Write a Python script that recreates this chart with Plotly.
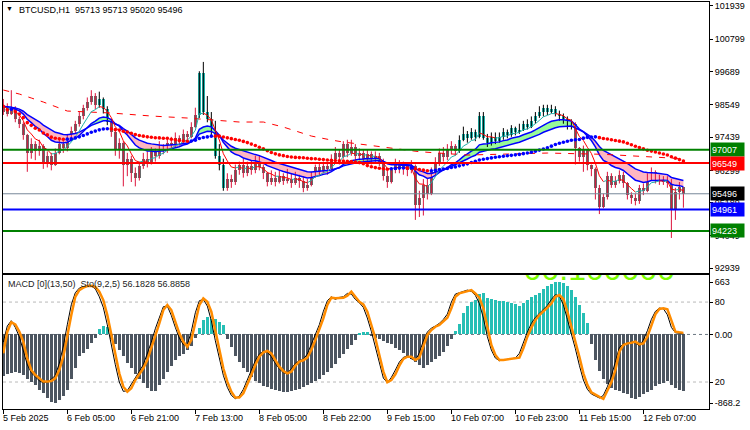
import plotly.graph_objects as go
import pandas as pd

# ---------------- data ----------------
first_open = 98300
close = [98500,98250,98450,98050,97900,97500,96900,97200,96950,97150,
         96550,96800,96500,96900,97200,97050,97450,97650,97900,98150,
         98450,98650,98850,98550,98750,98400,97950,97600,97000,97250,
         96500,96700,96200,96050,96450,96700,96600,96950,96800,97100,
         97000,97250,97200,97400,97300,97550,97450,97800,98200,99650,
         98300,98050,97600,96800,96500,95700,96000,95900,96300,96500,
         96200,96450,96300,96600,96400,96200,95900,96050,95900,96100,
         95950,96000,95850,96050,95950,95700,95800,96150,96400,96250,
         96450,96350,96700,96900,96750,97200,96900,97100,96800,96900,
         96700,96850,96650,96800,96600,96100,95900,96300,96550,96350,
         96450,96300,96450,95100,95350,95800,95500,96250,96600,96900,
         96750,97000,97150,96950,97350,97550,97400,97600,97450,98150,
         97400,97250,97450,97300,97450,97600,97500,97750,97600,97700,
         97900,97800,98000,98150,98300,98450,98300,98400,98250,98150,
         98050,97800,97900,97050,96750,97000,96500,96350,95700,95050,
         95400,96100,95800,95950,96150,95850,95450,95350,95250,95700,
         95600,96050,96250,95950,96050,95900,95950,94950,95550,95713,
         95496]
high = [98750,98600,99050,98500,98150,97950,97550,97400,97300,97350,
        97200,96950,96900,97050,97350,97300,97550,97800,98000,98300,
        98550,98800,99050,98950,99000,98800,98500,98050,97700,97400,
        97300,96900,96800,96400,96600,96900,96950,97100,97050,97300,
        97200,97400,97450,97600,97500,97700,97650,97950,98450,99700,
        100020,98850,98300,98000,97200,96700,96200,96150,96500,96600,
        96700,96600,96650,96800,96800,96500,96250,96300,96250,96300,
        96200,96350,96200,96250,96150,96100,96000,96250,96500,96550,
        96600,96550,96850,97100,97000,97300,97350,97350,97200,97050,
        97000,97000,96950,96950,96900,96700,96300,96400,96700,96650,
        96600,96550,96650,96500,95600,96000,96000,96400,96750,97050,
        97100,97200,97300,97200,97500,97800,97650,97750,97700,98300,
        98300,97550,97600,97600,97600,97750,97700,97850,97800,97900,
        98000,98050,98150,98300,98500,98550,98550,98550,98500,98350,
        98250,98150,98050,97950,97100,97150,97000,96500,96400,95800,
        95500,96250,96200,96100,96300,96250,95900,95550,95500,95800,
        95850,96200,96400,96300,96150,96100,96100,96000,95700,95900,
        95713]
low = [98200,98150,98200,97950,97750,97350,96250,96700,96650,96800,
       96350,96400,96300,96450,96850,96900,96950,97350,97550,97800,
       98050,98350,98550,98400,98450,98250,97850,97450,96800,96700,
       95750,96100,95900,95750,95950,96350,96400,96500,96600,96700,
       96850,96900,97000,97100,97150,97250,97300,97400,97750,98100,
       98200,97950,97500,96700,96300,95600,95600,95700,95800,96150,
       96050,96100,96150,96200,96300,96000,95750,95800,95750,95850,
       95800,95850,95700,95800,95700,95550,95600,95750,96050,96100,
       96200,96150,96300,96600,96500,96700,96750,96800,96650,96650,
       96550,96600,96500,96550,96450,95950,95700,95850,96200,96200,
       96150,96100,96200,94600,94700,94750,95300,95450,96100,96450,
       96600,96650,96850,96800,96900,97300,97250,97350,97300,97400,
       97350,97100,97150,97200,97250,97350,97400,97450,97500,97550,
       97650,97700,97750,97900,98100,98150,98200,98250,98150,98000,
       97900,97700,97700,96500,96600,96250,96300,96100,95300,94800,
       95000,95300,95700,95700,95850,95700,95300,95150,95100,95150,
       95450,95550,95950,95850,95800,95800,95700,93980,94600,95300,
       95020]
# bars drawn in the teal colour (indicator state), as index ranges
teal_ranges = [(24, 26), (49, 55), (114, 142)]

# long red dashed average
dash_idx = [0, 4, 7, 10, 16, 27, 37, 46, 59, 65, 70, 77, 82, 85, 91, 97, 104, 116, 136, 150, 170]
dash_val = [99056, 98919, 98782, 98644, 98335, 98267, 98164, 98095, 97958, 97958, 97786,
            97477, 97340, 97271, 97169, 97066, 96940, 96825, 96894, 96850, 96700]

# horizontal levels
level_vals = [97007, 96549, 95496, 94961, 94223]
level_cols = ["#008000", "#FF0000", "#778899", "#0000FF", "#008000"]
level_box = ["#008000", "#FF0000", "#000000", "#0000FF", "#008000"]

price_ticks = [101939, 100799, 99689, 98549, 97439, 96299, 95189, 94049, 92939]

# MACD(13,50) histogram
hist = [-527,-500,-490,-480,-490,-520,-560,-600,-640,-700,
        -740,-800,-860,-868,-830,-780,-700,-560,-420,-280,
        -230,-180,-110,-50,70,110,95,-60,-120,-200,
        -280,-360,-430,-500,-560,-620,-680,-720,-720,-640,
        -560,-480,-400,-330,-280,-250,-200,-150,-40,80,
        180,220,200,190,160,120,-60,-160,-270,-350,
        -420,-480,-540,-590,-620,-650,-670,-690,-710,-720,
        -730,-730,-720,-700,-690,-670,-640,-620,-590,-560,
        -520,-480,-430,-370,-300,-250,-190,-130,-75,15,
        25,25,-15,-45,-63,-84,-105,-127,-169,-198,
        -232,-274,-308,-350,-392,-422,-392,-350,-316,-274,
        -224,-148,-63,42,127,274,359,409,434,506,
        527,464,443,430,422,422,409,400,380,359,
        400,440,470,500,530,578,615,640,658,663,
        650,612,560,470,370,274,150,-120,-330,-470,
        -560,-630,-680,-710,-717,-738,-760,-805,-820,-790,
        -760,-735,-700,-655,-630,-615,-595,-640,-680,-710,
        -717]
# Stochastic(9,2,5): thin black and thick orange lines
sto_black = [50,62,66,61,54,44,33,27,24,21,
             19.5,20,22,25,34,47,63,78,87,90.5,
             91.5,92.5,92,90,84,76,63,47,33,20,
             13,13.5,18,23.5,28,33,41,50,60,69,
             76.5,77,70,61,53,48,48,58,72,81,
             82,77,66,51,37,25,16,10,7.5,9.5,
             14.5,21.5,29,36,41,43,42.5,39,34,30,
             27,26.5,30,34,36,37,41,48,55,63,
             73,81,84,82,83.5,84,86.5,86,82,79.5,
             76,68,58,46.5,34,23,19.5,23.5,29,35,
             38.5,39.5,37.5,36,42,51,57.5,60.5,62,64,
             67,71,80,86,87,88,89,88,85,79,
             68,54,44,38,36,36.5,37,37.5,38,41.5,
             50,57.5,64,68.5,71.5,74.5,77.5,82,85.5,84.5,
             78,67,56.5,45,32.5,21.5,14.5,11,9.5,8,
             10,16.5,24.5,36,46,48.5,49.5,50,49.5,47,
             51.5,58.5,67,73,75.5,75,70.5,61,57,56.5,
             56.1828]
sto_orange = [41.5,57.8,64.8,63.3,57.8,50.3,37.8,29.0,25.3,22.8,
              20.3,20.3,20.8,22.8,29.0,39.0,55.3,70.3,84.0,89.0,
              90.8,92.0,92.3,91.5,87.8,81.5,70.3,55.3,40.3,26.5,
              16.5,12.8,15.3,21.5,25.8,30.3,36.5,45.3,55.3,64.0,
              74.0,77.8,74.0,65.3,56.5,50.3,46.5,51.5,65.3,77.8,
              82.8,80.3,72.8,59.0,44.0,30.3,20.3,12.8,8.3,8.3,
              11.5,17.8,25.3,32.8,39.0,42.3,43.3,41.5,36.5,31.5,
              28.3,26.5,27.8,32.3,35.3,36.3,38.3,44.0,51.5,59.0,
              67.8,77.8,83.3,82.8,82.8,83.3,84.8,87.8,84.0,80.3,
              78.3,72.8,62.8,52.8,40.3,27.8,19.8,21.5,25.8,32.3,
              37.3,39.0,39.0,36.5,38.3,46.5,55.3,59.0,61.5,62.8,
              65.8,68.3,75.3,84.0,86.5,87.3,88.3,89.0,86.5,83.3,
              75.3,60.3,47.8,40.3,36.5,36.5,37.0,37.3,37.5,38.3,
              45.3,54.0,60.8,66.5,70.3,72.8,75.8,79.0,84.0,85.3,
              82.3,72.8,61.5,51.5,39.0,26.5,17.8,12.3,10.3,8.8,
              7.3,13.3,19.8,29.0,42.8,47.8,49.0,49.5,50.3,48.3,
              49.0,54.0,62.8,70.8,74.8,75.3,74.5,65.3,57.8,57.3,
              56.8858]

x_tick_idx = [0, 16, 32, 48, 64, 80, 96, 112, 128, 144, 160]
x_tick_text = ["5 Feb 2025", "6 Feb 05:00", "6 Feb 21:00", "7 Feb 13:00", "8 Feb 05:00",
               "8 Feb 22:00", "9 Feb 15:00", "10 Feb 07:00", "10 Feb 23:00",
               "11 Feb 15:00", "12 Feb 07:00"]

header = "BTCUSD,H1  95713 95713 95020 95496"
macd_label = "MACD [0](13,50)  Sto(9,2,5) 56.1828 56.8858"
big_label = "00.100000"   # large lime text, only its lower edge shows in the sub-window

# ---------------- derived series ----------------
n = len(close)
idx = list(range(n))
opens = [first_open] + close[:-1]
teal = set()
for a, b in teal_ranges:
    teal.update(range(a, b + 1))

s = pd.Series(close, dtype=float)
ma_slow = s.rolling(42, min_periods=1).mean().tolist()
rib_fast = s.ewm(span=14, adjust=False).mean().tolist()
rib_slow = s.ewm(span=24, adjust=False).mean().tolist()
thin = s.ewm(span=6, adjust=False).mean().tolist()

FONT = "Liberation Sans"
fig = go.Figure()

# ribbon fill
polys = {"g": ([], []), "p": ([], [])}
for k in range(n - 1):
    key = "g" if (rib_fast[k] + rib_fast[k + 1]) > (rib_slow[k] + rib_slow[k + 1]) else "p"
    xs, ys = polys[key]
    xs += [k, k + 1, k + 1, k, k, None]
    ys += [rib_fast[k], rib_fast[k + 1], rib_slow[k + 1], rib_slow[k], rib_fast[k], None]
for key, col in (("g", "#98FB98"), ("p", "#FFB6C1")):
    fig.add_trace(go.Scatter(x=polys[key][0], y=polys[key][1], mode="lines", fill="toself",
                             fillcolor=col, line=dict(width=0), hoverinfo="skip",
                             xaxis="x", yaxis="y"))

# wicks
for ids, col in (([k for k in idx if k not in teal], "#DC143C"), ([k for k in idx if k in teal], "#000000")):
    xs, ys = [], []
    for k in ids:
        xs += [k, k, None]
        ys += [low[k], high[k], None]
    fig.add_trace(go.Scatter(x=xs, y=ys, mode="lines", line=dict(color=col, width=1),
                             hoverinfo="skip", xaxis="x", yaxis="y"))
# bodies
for ids, col in (([k for k in idx if k not in teal], "#696969"), ([k for k in idx if k in teal], "#20B2AA")):
    base = [min(opens[k], close[k]) for k in ids]
    hgt = [max(abs(close[k] - opens[k]), 35) for k in ids]
    fig.add_trace(go.Bar(x=ids, y=hgt, base=base, width=0.75, marker=dict(color=col, line=dict(width=0)),
                         hoverinfo="skip", xaxis="x", yaxis="y"))

# ribbon lines
for ser in (rib_slow, rib_fast):
    fig.add_trace(go.Scatter(x=idx, y=ser, mode="lines", line=dict(color="#0000FF", width=1.5),
                             hoverinfo="skip", xaxis="x", yaxis="y"))

# long dashed red average
fig.add_trace(go.Scatter(x=dash_idx, y=dash_val, mode="lines",
                         line=dict(color="#FF0000", width=1, dash="6px,7px"),
                         hoverinfo="skip", xaxis="x", yaxis="y"))

# thin fast average coloured by slope
segs = {"up": ([], []), "dn": ([], [])}
for k in range(1, n):
    key = "up" if thin[k] >= thin[k - 1] else "dn"
    segs[key][0].extend([k - 1, k, None])
    segs[key][1].extend([thin[k - 1], thin[k], None])
for key, col in (("up", "#20B2AA"), ("dn", "#FF0000")):
    fig.add_trace(go.Scatter(x=segs[key][0], y=segs[key][1], mode="lines",
                             line=dict(color=col, width=1), hoverinfo="skip", xaxis="x", yaxis="y"))

# dotted slow average coloured by slope
up_x, up_y, dn_x, dn_y = [], [], [], []
for k in range(n):
    rising = k > 0 and ma_slow[k] > ma_slow[k - 1]
    (up_x if rising else dn_x).append(k)
    (up_y if rising else dn_y).append(ma_slow[k])
fig.add_trace(go.Scatter(x=dn_x, y=dn_y, mode="markers", marker=dict(color="#FF0000", size=3.6),
                         hoverinfo="skip", xaxis="x", yaxis="y"))
fig.add_trace(go.Scatter(x=up_x, y=up_y, mode="markers", marker=dict(color="#0000FF", size=3.6),
                         hoverinfo="skip", xaxis="x", yaxis="y"))

# ---------------- MACD panel ----------------
pos = [k for k in idx if hist[k] >= 0]
neg = [k for k in idx if hist[k] < 0]
fig.add_trace(go.Bar(x=pos, y=[hist[k] for k in pos], width=0.75,
                     marker=dict(color="#26BFB5", line=dict(width=0)), hoverinfo="skip",
                     xaxis="x2", yaxis="y2"))
fig.add_trace(go.Bar(x=neg, y=[hist[k] for k in neg], width=0.75,
                     marker=dict(color="#4C5560", line=dict(width=0)), hoverinfo="skip",
                     xaxis="x2", yaxis="y2"))
# big lime label at the sub-window top
fig.add_trace(go.Scatter(x=[149], y=[102.3], mode="text", text=[big_label],
                         textfont=dict(size=32, color="#7CFC00", family="Liberation Sans"),
                         textposition="middle center", cliponaxis=True, hoverinfo="skip",
                         xaxis="x2", yaxis="y3"))
fig.add_trace(go.Scatter(x=idx, y=sto_black, mode="lines", line=dict(color="#000000", width=1),
                         hoverinfo="skip", xaxis="x2", yaxis="y3"))
fig.add_trace(go.Scatter(x=idx, y=sto_orange, mode="lines", line=dict(color="#FF8C00", width=2.5),
                         hoverinfo="skip", xaxis="x2", yaxis="y3"))

shapes = []
for v, c in zip(level_vals, level_cols):
    shapes.append(dict(type="line", xref="x domain", x0=0, x1=1, yref="y", y0=v, y1=v,
                       line=dict(color=c, width=1 if c == "#778899" else 2), layer="above"))
for v in (80, 20):
    shapes.append(dict(type="line", xref="x2 domain", x0=0, x1=1, yref="y3", y0=v, y1=v,
                       line=dict(color="#B9B9B9", width=1, dash="3px,3px"), layer="below"))
shapes.append(dict(type="line", xref="x2 domain", x0=0, x1=1, yref="y2", y0=0, y1=0,
                   line=dict(color="#6A7580", width=1, dash="3px,3px"), layer="below"))

ann = []
for v, c in zip(level_vals, level_box):
    ann.append(dict(xref="paper", x=1, xanchor="left", xshift=1, yref="y", y=v, yanchor="middle",
                    text=str(v), showarrow=False, bgcolor=c, font=dict(color="white", size=9, family=FONT),
                    width=31, height=11, align="left", borderpad=1))
for t, txt in zip(x_tick_idx, x_tick_text):
    ann.append(dict(xref="x2", x=t, xanchor="left", xshift=-2, yref="paper", y=0, yanchor="top",
                    yshift=-2, text=txt, showarrow=False, font=dict(size=9, family=FONT, color="black")))
ann.append(dict(xref="paper", x=0, xanchor="left", xshift=1, yref="paper", y=1, yanchor="top", yshift=-1,
                text="▼", showarrow=False, font=dict(size=7, color="black")))
ann.append(dict(xref="paper", x=0, xanchor="left", xshift=14, yref="paper", y=1, yanchor="top", yshift=-1,
                text=header, showarrow=False, font=dict(size=9, family=FONT, color="black")))
ann.append(dict(xref="paper", x=0, xanchor="left", xshift=3, yref="paper", y=0.329, yanchor="top", yshift=-2,
                text=macd_label, showarrow=False, font=dict(size=9, family=FONT, color="#222222")))

XR = [-0.075, 176.4]
axis_common = dict(showgrid=False, zeroline=False, showline=True, linecolor="black", linewidth=1, mirror=True)
fig.update_layout(
    width=750, height=430, margin=dict(l=3, r=41, t=2, b=21),
    paper_bgcolor="white", plot_bgcolor="white", showlegend=False,
    barmode="overlay", bargap=0,
    font=dict(family=FONT, size=9, color="black"),
    xaxis=dict(domain=[0, 1], anchor="y", range=XR, showticklabels=False, ticks="", **axis_common),
    yaxis=dict(domain=[0.334, 1], anchor="x", range=[92776, 102076], side="right",
               tickvals=price_ticks, ticktext=[str(v) for v in price_ticks],
               ticks="outside", ticklen=3, tickcolor="black", **axis_common),
    xaxis2=dict(domain=[0, 1], anchor="y2", range=XR, tickvals=x_tick_idx, ticks="outside", ticklen=4,
                tickcolor="black", showticklabels=False, **axis_common),
    yaxis2=dict(domain=[0, 0.329], anchor="x2", range=[-944, 751.6], side="right",
                tickvals=[663, 0, -868.2], ticktext=["663", "0.00", "-868.2"],
                ticks="outside", ticklen=3, tickcolor="black", **axis_common),
    yaxis3=dict(overlaying="y2", anchor="x2", side="right", range=[-0.25, 100.25],
                tickvals=[80, 20], ticktext=["80", "20"], ticks="outside", ticklen=3, tickcolor="black",
                showgrid=False, zeroline=False, showline=False),
    shapes=shapes, annotations=ann,
)
fig.write_html("out.html")
